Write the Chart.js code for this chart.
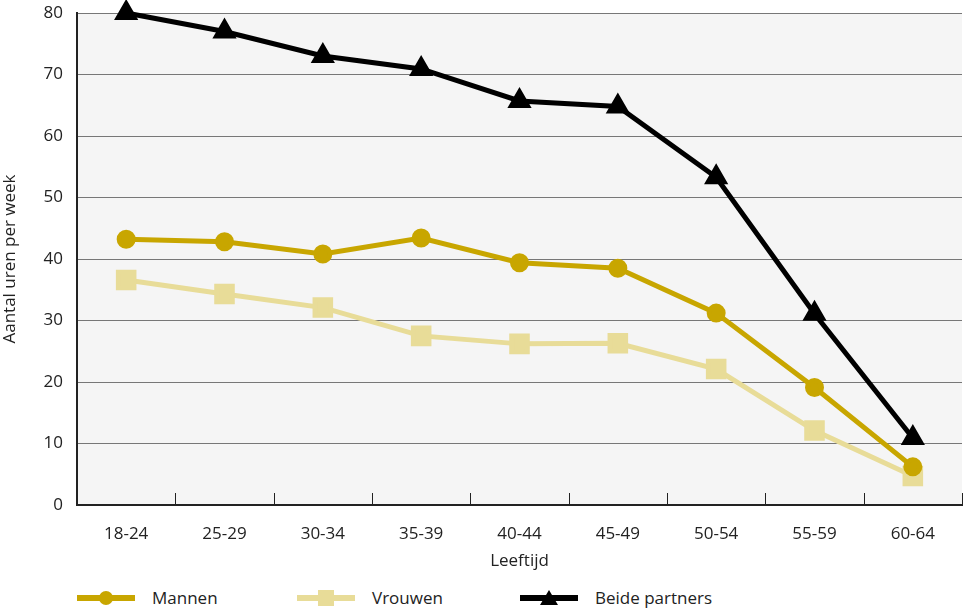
<!DOCTYPE html>
<html lang="nl">
<head>
<meta charset="UTF-8">
<title>Aantal uren per week naar leeftijd</title>
<script src="https://cdn.jsdelivr.net/npm/chart.js"></script>
<style>
    body { margin: 0; background: #fff; font-family: "Open Sans", sans-serif; }
    #wrap { position: relative; width: 964px; height: 575px; }
    #legend { position: absolute; top: 586px; left: 0; width: 964px; height: 24px; }
    .item { position: absolute; top: 0; height: 24px; font-size: 17px; color: #222; }
    .item .line { position: absolute; left: 0; top: 9px; width: 58px; height: 6px; }
    .item .mark { position: absolute; }
    .item span { position: absolute; left: 75px; top: 0; white-space: nowrap; line-height: 24px; }
</style>
</head>
<body>
<div id="wrap"><canvas id="chart"></canvas></div>
<div id="legend">
    <div class="item" style="left:77px">
        <div class="line" style="background:#c8a600"></div>
        <div class="mark" style="left:22px;top:5px;width:14px;height:14px;border-radius:50%;background:#c8a600"></div>
        <span>Mannen</span>
    </div>
    <div class="item" style="left:297px">
        <div class="line" style="background:#e8dc98"></div>
        <div class="mark" style="left:21px;top:4px;width:16px;height:16px;background:#e8dc98"></div>
        <span>Vrouwen</span>
    </div>
    <div class="item" style="left:520px">
        <div class="line" style="background:#000"></div>
        <div class="mark" style="left:20px;top:4px;width:0;height:0;border-left:9px solid transparent;border-right:9px solid transparent;border-bottom:15px solid #000"></div>
        <span>Beide partners</span>
    </div>
</div>
<script>
    // leeftijdsklassen en uren per week
    const leeftijd = ["18-24", "25-29", "30-34", "35-39", "40-44", "45-49", "50-54", "55-59", "60-64"];
    const mannen = [43.2, 42.8, 40.8, 43.4, 39.4, 38.5, 31.2, 19.1, 6.2];
    const vrouwen = [36.6, 34.3, 32.1, 27.5, 26.2, 26.3, 22.1, 12.1, 4.7];
    const beide = [80, 77, 73, 70.9, 65.7, 64.8, 53.3, 31.1, 10.9];

    const font = { family: "'Open Sans', sans-serif", size: 17 };

    // grijze achtergrond van het plotvlak en korte streepjes tussen de klassen
    const plotBg = {
        id: 'plotBg',
        beforeDraw(chart) {
            const a = chart.chartArea, ctx = chart.ctx;
            ctx.save();
            ctx.fillStyle = '#f5f5f5';
            ctx.fillRect(a.left, a.top, a.right - a.left, a.bottom - a.top);
            ctx.restore();
        },
        beforeDatasetsDraw(chart) {
            const a = chart.chartArea, ctx = chart.ctx, x = chart.scales.x;
            const step = x.getPixelForValue(1) - x.getPixelForValue(0);
            ctx.save();
            ctx.strokeStyle = '#222';
            ctx.lineWidth = 1;
            for (let i = 1; i <= leeftijd.length; i++) {
                const px = Math.round(x.getPixelForValue(i) - step / 2) + 0.5;
                ctx.beginPath();
                ctx.moveTo(px, a.bottom);
                ctx.lineTo(px, a.bottom - 12);
                ctx.stroke();
            }
            ctx.restore();
        }
    };

    new Chart(document.getElementById('chart'), {
        type: 'line',
        data: {
            labels: leeftijd,
            datasets: [
                {
                    label: 'Mannen', data: mannen, order: 1, clip: false,
                    borderColor: '#c8a600', backgroundColor: '#c8a600',
                    borderWidth: 5, pointStyle: 'circle', pointRadius: 7, pointHoverRadius: 7
                },
                {
                    label: 'Vrouwen', data: vrouwen, order: 2, clip: false,
                    borderColor: '#e8dc98', backgroundColor: '#e8dc98',
                    borderWidth: 5, pointStyle: 'rect', pointRadius: 11, pointHoverRadius: 11
                },
                {
                    label: 'Beide partners', data: beide, order: 0, clip: false,
                    borderColor: '#000', backgroundColor: '#000',
                    borderWidth: 5, pointStyle: 'triangle', pointRadius: 9, pointHoverRadius: 9
                }
            ]
        },
        options: {
            responsive: true,
            maintainAspectRatio: false,
            animation: false,
            layout: { autoPadding: false, padding: { top: 13, right: 2 } },
            plugins: { legend: { display: false }, tooltip: { enabled: false } },
            elements: { point: { borderWidth: 0 }, line: { tension: 0 } },
            scales: {
                x: {
                    offset: true,
                    grid: { display: false },
                    border: { color: '#222', width: 2 },
                    ticks: { color: '#222', font: font, padding: 11, maxRotation: 0 },
                    title: { display: true, text: 'Leeftijd', color: '#222', font: font, padding: { top: 0 } },
                    afterFit(s) { s.height = 70; s.paddingLeft = 0; s.paddingRight = 0; }
                },
                y: {
                    min: 0, max: 80,
                    ticks: { stepSize: 10, color: '#222', font: font, padding: 14 },
                    grid: { color: '#777', lineWidth: 1, drawTicks: false },
                    border: { color: '#222', width: 2 },
                    title: { display: true, text: 'Aantal uren per week', color: '#222', font: font, padding: 0 },
                    afterFit(s) { s.width = 77; s.paddingTop = 0; s.paddingBottom = 0; }
                }
            }
        },
        plugins: [plotBg]
    });
</script>
</body>
</html>
